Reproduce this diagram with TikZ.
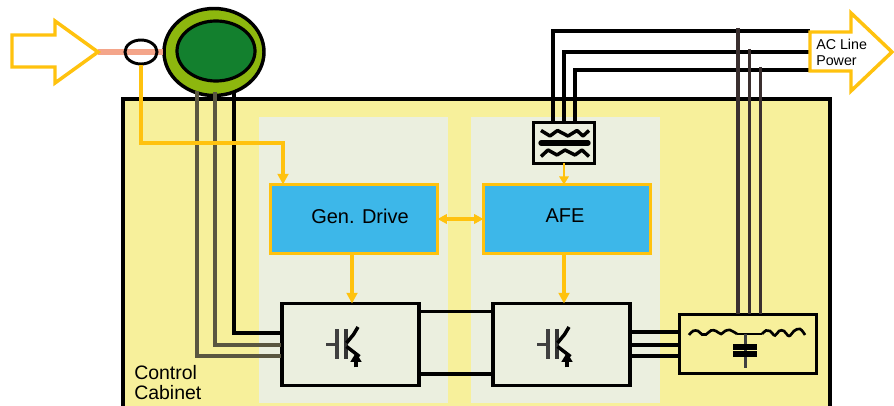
\documentclass[tikz,border=0pt]{standalone}
\usepackage{fontspec}
\setmainfont{Liberation Sans}
\usetikzlibrary{arrows.meta,shapes.geometric}
\definecolor{cab}{HTML}{F7F09B}
\definecolor{panel}{HTML}{EBEFDF}
\definecolor{org}{HTML}{FFC20E}
\definecolor{blu}{HTML}{3DB7E9}
\definecolor{lime}{HTML}{8DB70E}
\definecolor{dgreen}{HTML}{13802E}
\definecolor{pink}{HTML}{F4A58A}
\definecolor{olive}{HTML}{5A5640}
\definecolor{brn}{HTML}{3A2F2F}
\tikzset{
  pxbox/.style 2 args={rectangle,inner sep=0pt,outer sep=0pt,minimum width=#1*0.75pt,minimum height=#2*0.75pt},
  ctrl/.style={pxbox={167}{69},fill=blu,draw=org,line width=2.6pt},
  ctrltext/.style={inner sep=0pt,font=\fontsize{15}{15}\selectfont},
  conv/.style={pxbox={137}{82},fill=panel,draw=black,line width=2.4pt},
  wire/.style={draw=black,line width=2.4pt},
  sig/.style={draw=org,line width=2.4pt},
  sigarrow/.style={sig,-{Triangle[length=8pt,width=8pt]}},
  bigarrow/.style={draw=org,line width=2.6pt,fill=white,miter limit=10},
  lbl/.style={align=left,inner sep=0pt,anchor=west},
  igbt/.pic={
    \draw[line width=1.8pt,black!75] (-24.5,0) -- (-15,0);
    \draw[line width=2.4pt,black!75] (-13.5,-15) -- (-13.5,15);
    \draw[line width=2.4pt,black!80] (-4.5,-15) -- (-4.5,15);
    \draw[line width=2.6pt,black] (-4,-1.5) -- (3,-10) -- (7.5,-17.5);
    \draw[line width=2.6pt,black] (-4,2) -- (9,12);
    \draw[line width=2.4pt,black,-{Triangle[length=7pt,width=8pt]}] (5.5,23) -- (5.5,8);
  },
  x=0.75pt,y=-0.75pt}
\begin{document}
\begin{tikzpicture}
\useasboundingbox (0,0) rectangle (894,406);
% cabinet
\fill[cab] (123,99) rectangle (830,406);
\draw[line width=2.6pt,black] (123,406) -- (123,99) -- (830,99) -- (830,406);
\fill[panel] (259,117) rectangle (448,403);
\fill[panel] (471,117) rectangle (660,403);
\node[lbl,font=\fontsize{14.6}{14.6}\selectfont] (cc1) at (134,373) {Control};
\node[lbl,font=\fontsize{14.6}{14.6}\selectfont] (cc2) at (134,393) {Cabinet};
% boxes
\node[ctrl] (gd) at (354,219) {};
\node[ctrl] (afe) at (567,219) {};
\node[ctrltext] (gdt) at (360,216) {Gen. Drive};
\node[ctrltext] (afet) at (565,216) {AFE};
\node[conv] (c1) at (350.5,344.5) {};
\node[conv] (c2) at (561.5,344.5) {};
\node[pxbox={137}{59},fill=cab,draw=black,line width=2.4pt] (lc) at (748,344) {};
\node[pxbox={61}{41},fill=panel,draw=black,line width=2.4pt] (flt) at (564,143) {};
% generator
\node[ellipse,inner sep=0pt,minimum width=100*0.75pt,minimum height=87*0.75pt,fill=lime,draw=black,line width=2.6pt] (outer) at (214,52) {};
\node[ellipse,inner sep=0pt,minimum width=78*0.75pt,minimum height=60*0.75pt,fill=dgreen,draw=black,line width=2.4pt] (inner) at (216,51) {};
% current sensor
\node[ellipse,inner sep=0pt,minimum width=32*0.75pt,minimum height=24*0.75pt,fill=white] (ctb) at (141,52) {};
\coordinate (s1) at (98,52);
\coordinate (s2) at (163,52);
\draw[pink,line width=5pt] (s1) -- (s2);
\node[ellipse,inner sep=0pt,minimum width=32*0.75pt,minimum height=24*0.75pt,draw=black,line width=2.2pt] (ct) at (141,52) {};
% generator wires
\coordinate (g1) at (197,91);
\coordinate (g2) at (215,92);
\coordinate (g3) at (234,91);
\coordinate (t1) at (281,356);
\coordinate (t2) at (281,345);
\coordinate (t3) at (281,333);
\draw[olive,line width=2.3pt] (g1) |- (t1);
\draw[olive,line width=2.3pt] (g2) |- (t2);
\draw[black,line width=2.8pt] (g3) |- (t3);
% DC link
\coordinate (l1) at (419,311.5);
\coordinate (l2) at (492,311.5);
\coordinate (l3) at (419,374);
\coordinate (l4) at (492,374);
\draw[black,line width=2.2pt] (l1) -- (l2);
\draw[black,line width=2.4pt] (l3) -- (l4);
% converter to LC
\foreach \n/\y in {a/332,b/345,c/356}{
  \coordinate (o\n) at (631,\y);
  \coordinate (i\n) at (679,\y);
  \draw[wire] (o\n) -- (i\n);
}
% AC lines
\coordinate (u1) at (553,122);
\coordinate (u2) at (564,122);
\coordinate (u3) at (575,122);
\coordinate (e1) at (810,31);
\coordinate (e2) at (810,52);
\coordinate (e3) at (810,70);
\draw[wire] (u1) |- (e1);
\draw[wire] (u2) |- (e2);
\draw[wire] (u3) |- (e3);
% LC taps
\coordinate (v1) at (738,28);
\coordinate (v2) at (749.5,49);
\coordinate (v3) at (760.5,67);
\draw[brn,line width=2.4pt] (v1) -- (v1 |- lc.north);
\draw[brn,line width=2.3pt] (v2) -- (v2 |- lc.north);
\draw[brn,line width=2.3pt] (v3) -- (v3 |- lc.north);
% sense signal
\coordinate (b1) at (283,143);
\draw[sigarrow] (ct.south) |- (b1) -- (b1 |- gd.north);
\coordinate (a1) at (352,254);
\coordinate (a2) at (564,254);
\draw[sigarrow] (a1) -- (a1 |- c1.north);
\draw[sigarrow] (a2) -- (a2 |- c2.north);
\draw[sig,line width=2.2pt,-{Triangle[length=6pt,width=7pt]}] (flt.south) -- (flt.south |- afe.north);
\draw[sig,{Triangle[length=7pt,width=7pt]}-{Triangle[length=7pt,width=7pt]}] (gd.east) -- (afe.west);
% big arrows
\draw[bigarrow] (12,35) -- (55,35) -- (55,21) -- (98,52) -- (55,83) -- (55,67) -- (12,67) -- cycle;
\draw[bigarrow] (810,32) -- (851,32) -- (851,13) -- (892,52) -- (851,91) -- (851,71) -- (810,71) -- cycle;
\node[lbl,font=\fontsize{10.7}{10.7}\selectfont] (ac1) at (816,44) {AC Line};
\node[lbl,font=\fontsize{10.7}{10.7}\selectfont] (ac2) at (816,61) {Power};
% IGBTs
\pic at (350.5,344.5) {igbt};
\pic at (561.5,344.5) {igbt};
% filter symbol
\draw[line width=2.6pt,black,line join=round] (541,130.5) -- (550,136) -- (557.5,130.5) -- (568,136) -- (577,130.5) -- (583,136) -- (589,130.5);
\draw[line width=4pt,black,line cap=round] (541,143) -- (588,143);
\draw[line width=2.6pt,black,line join=round] (541,156.5) -- (548,150) -- (557,155) -- (565,150) -- (575,155) -- (582,150) -- (589,156.5);
% LC symbol
\draw[line width=2pt,black] plot[smooth,tension=0.7] coordinates {(689,335) (693,331) (698,331) (702,334.5) (706,334.5) (711,330.5) (716,331) (721,334) (725,331) (730,330) (734,332) (737,334)};
\draw[line width=2pt,black] (737,334) -- (762,334);
\draw[line width=2pt,black] plot[smooth,tension=0.7] coordinates {(762,334) (766,330.5) (770,331) (775,335.5) (779,331) (784,331) (789,336) (794,331) (800,329) (805,335)};
\draw[line width=1.9pt,black!75] (745.5,334) -- (745.5,368);
\draw[line width=4pt,black] (733,347) -- (757,347);
\draw[line width=4pt,black] (733,354) -- (757,354);
\end{tikzpicture}
\end{document}
